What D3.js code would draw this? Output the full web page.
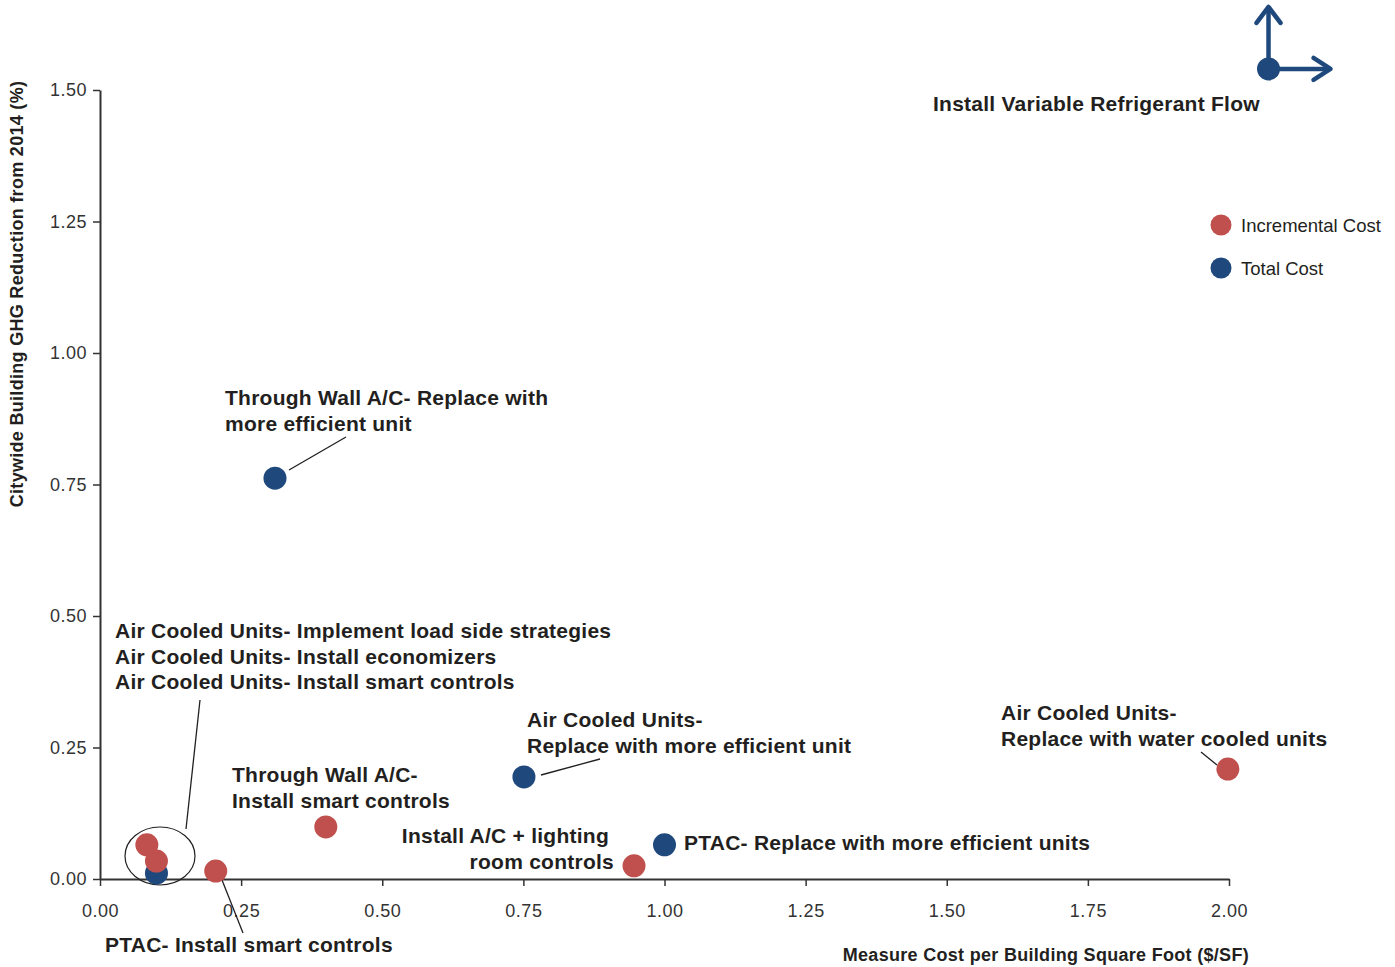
<!DOCTYPE html>
<html><head><meta charset="utf-8">
<script src="https://cdn.jsdelivr.net/npm/d3@7"></script>
<style>
html,body{margin:0;padding:0;background:#fff;}
svg{display:block;font-family:"Liberation Sans",Arial,sans-serif;}
</style></head>
<body>
<svg id="chart" width="1395" height="967"></svg>
<script>
// ---- data ----
const measures = [
  "Install Variable Refrigerant Flow",
  "Through Wall A/C- Replace with more efficient unit",
  "Air Cooled Units- Implement load side strategies",
  "Air Cooled Units- Install economizers",
  "Air Cooled Units- Install smart controls",
  "PTAC- Install smart controls",
  "Through Wall A/C- Install smart controls",
  "Air Cooled Units- Replace with more efficient unit",
  "Install A/C + lighting room controls",
  "PTAC- Replace with more efficient units",
  "Air Cooled Units- Replace with water cooled units"
];
const costType = ["Total","Total","Incremental","Incremental","Total","Incremental","Incremental","Total","Incremental","Total","Incremental"];
const costPerSF = [2.07, 0.31, 0.083, 0.10, 0.10, 0.205, 0.40, 0.751, 0.946, 1.00, 1.998];
const ghgReduction = [1.54, 0.762, 0.065, 0.034, 0.011, 0.015, 0.099, 0.194, 0.025, 0.065, 0.209];
const offScale = [true,false,false,false,false,false,false,false,false,false,false];
const xTicks = [0,0.25,0.5,0.75,1.0,1.25,1.5,1.75,2.0];
const yTicks = [0,0.25,0.5,0.75,1.0,1.25,1.5];
const seriesNames = ["Incremental Cost","Total Cost"];
const xTitle = "Measure Cost per Building Square Foot ($/SF)";
const yTitle = "Citywide Building GHG Reduction from 2014 (%)";

// ---- layout / annotations ----
const labels = [
  {lines:["Install Variable Refrigerant Flow"], x:933, y:111},
  {lines:["Through Wall A/C- Replace with","more efficient unit"], x:225, y:405, lead:[[346,437],[289,470]]},
  {lines:["Air Cooled Units- Implement load side strategies","Air Cooled Units- Install economizers","Air Cooled Units- Install smart controls"], x:115, y:638, lead:[[200,700],[186,829]]},
  {lines:["PTAC- Install smart controls"], x:105, y:952, lead:[[222,880],[243,933]]},
  {lines:["Through Wall A/C-","Install smart controls"], x:232, y:782},
  {lines:["Air Cooled Units-","Replace with more efficient unit"], x:527, y:727, lead:[[600,759],[541,775]]},
  {lines:["Install A/C + lighting","room controls"], x:609, y:843, anchor:"end", dx:[0,5]},
  {lines:["PTAC- Replace with more efficient units"], x:684, y:850},
  {lines:["Air Cooled Units-","Replace with water cooled units"], x:1001, y:720, lead:[[1201,752],[1217,765]]}
];

const colors = {Incremental:"#c0504d", Total:"#1f497d"};
const textColor = "#231f20";

const svg = d3.select("#chart");
const x = d3.scaleLinear().domain([0,2]).range([100,1229]);
const y = d3.scaleLinear().domain([0,1.5]).range([879,90]);

// axes
const xAxis = d3.axisBottom(x).tickValues(xTicks).tickFormat(d3.format(".2f")).tickSize(7).tickSizeOuter(0);
const gx = svg.append("g").attr("transform","translate(0,879)").call(xAxis);
gx.select(".domain").attr("stroke","#333").attr("stroke-width",2);
gx.selectAll(".tick line").attr("stroke","#333").attr("stroke-width",1.5);
gx.selectAll(".tick text").attr("font-size",18).attr("letter-spacing","0.5px").attr("fill","#333").attr("y",16).attr("dy","1.2em").attr("font-family","Liberation Sans, Arial, sans-serif");

const yAxis = d3.axisLeft(y).tickValues(yTicks).tickFormat(d3.format(".2f")).tickSize(7).tickSizeOuter(0);
const gy = svg.append("g").attr("transform","translate(100,0)").call(yAxis);
gy.select(".domain").attr("stroke","#333").attr("stroke-width",2);
gy.selectAll(".tick line").attr("stroke","#333").attr("stroke-width",1.5);
gy.selectAll(".tick text").attr("font-size",18).attr("letter-spacing","0.5px").attr("fill","#333").attr("x",-13).attr("font-family","Liberation Sans, Arial, sans-serif");

// axis titles
svg.append("text").attr("x",1249).attr("y",961).attr("text-anchor","end")
  .attr("font-size",18).attr("letter-spacing","0.3px").attr("font-weight","bold").attr("fill",textColor).text(xTitle);
svg.append("text").attr("transform","translate(23,294) rotate(-90)").attr("text-anchor","middle")
  .attr("font-size",18).attr("letter-spacing","0.3px").attr("font-weight","bold").attr("fill",textColor).text(yTitle);

// cluster ellipse
svg.append("ellipse").attr("cx",160).attr("cy",856).attr("rx",35).attr("ry",29)
  .attr("fill","none").attr("stroke","#231f20").attr("stroke-width",1.2);

// leader lines
labels.filter(l=>l.lead).forEach(l=>{
  svg.append("line").attr("x1",l.lead[0][0]).attr("y1",l.lead[0][1]).attr("x2",l.lead[1][0]).attr("y2",l.lead[1][1])
    .attr("stroke","#231f20").attr("stroke-width",1.3);
});

// VRF off-scale arrows
const vi = offScale.indexOf(true);
const vx = x(costPerSF[vi]), vy = y(ghgReduction[vi]);
const ag = svg.append("g").attr("stroke",colors.Total).attr("stroke-width",4.5).attr("fill","none")
  .attr("stroke-linecap","round").attr("stroke-linejoin","round");
ag.append("line").attr("x1",vx).attr("y1",vy).attr("x2",vx).attr("y2",vy-60);
ag.append("polyline").attr("points",`${vx-12},${vy-46} ${vx},${vy-62} ${vx+12},${vy-46}`);
ag.append("line").attr("x1",vx).attr("y1",vy).attr("x2",vx+60).attr("y2",vy);
ag.append("polyline").attr("points",`${vx+45},${vy-11} ${vx+62},${vy} ${vx+45},${vy+11}`);

// points (draw order: incremental cluster on top of total)
const pts = measures.map((m,i)=>({m, t:costType[i], cx:costPerSF[i], cy:ghgReduction[i]}));
const order = [0,1,4,7,9,2,3,5,6,8,10];
svg.append("g").selectAll("circle").data(order.map(i=>pts[i])).join("circle")
  .attr("cx",d=>x(d.cx)).attr("cy",d=>y(d.cy)).attr("r",11.5)
  .attr("fill",d=>colors[d.t]);

// labels
labels.forEach(l=>{
  const t = svg.append("text").attr("font-size",21).attr("letter-spacing","0.25px").attr("font-weight","bold").attr("fill",textColor)
    .attr("text-anchor",l.anchor||"start");
  l.lines.forEach((ln,k)=>{
    t.append("tspan").attr("x",l.x+(l.dx?l.dx[k]:0)).attr("y",l.y+k*25.5).text(ln);
  });
});

// legend
const lg = svg.append("g");
seriesNames.forEach((s,i)=>{
  const key = i===0?"Incremental":"Total";
  lg.append("circle").attr("cx",1221).attr("cy",225+i*43).attr("r",10.5).attr("fill",colors[key]);
  lg.append("text").attr("x",1241).attr("y",225+i*43+6.5).attr("font-size",18.5).attr("fill",textColor).text(s);
});
</script>
</body></html>
